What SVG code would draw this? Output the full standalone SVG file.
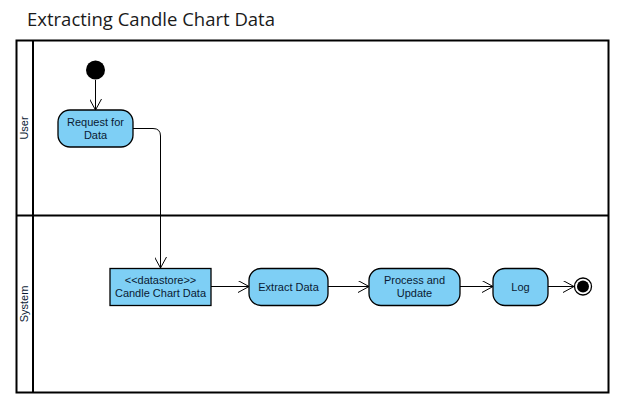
<svg xmlns="http://www.w3.org/2000/svg" width="628" height="412" viewBox="0 0 628 412">
<defs>
<style>
.act{fill:#7ecff5;stroke:#000;stroke-width:1.3}
.lbl{font-family:"Liberation Sans",Arial,sans-serif;font-size:11px;fill:#0a1a33;text-anchor:middle}
.edge{fill:none;stroke:#000;stroke-width:1}
.lane{fill:none;stroke:#000}
</style>
<marker id="arr" viewBox="0 0 12 12" refX="11" refY="6" markerWidth="12" markerHeight="12" markerUnits="userSpaceOnUse" orient="auto">
<path d="M0,0 L11,6 L0,12" fill="none" stroke="#000" stroke-width="1"/>
</marker>
</defs>
<rect width="628" height="412" fill="#fff"/>
<text x="27" y="26" font-family="'Open Sans','Noto Sans',sans-serif" font-size="18.5" fill="#1a1a1a">Extracting Candle Chart Data</text>
<g id="lanes">
<rect x="16.5" y="40.5" width="592" height="352" class="lane" stroke-width="2"/>
<line x1="33" y1="40" x2="33" y2="393" class="lane" stroke-width="2"/>
<line x1="16" y1="215.5" x2="609" y2="215.5" class="lane" stroke-width="2"/>
<text transform="translate(28,128) rotate(-90)" class="lbl" font-size="11">User</text>
<text transform="translate(28,304) rotate(-90)" class="lbl" font-size="11">System</text>
</g>
<g id="connectors">
<line x1="95.5" y1="80" x2="95.5" y2="110" class="edge" marker-end="url(#arr)"/>
<path d="M133,128.5 H153 Q160.5,128.5 160.5,136 V268" class="edge" marker-end="url(#arr)"/>
<line x1="211" y1="286.5" x2="249" y2="286.5" class="edge" marker-end="url(#arr)"/>
<line x1="328" y1="286.5" x2="369" y2="286.5" class="edge" marker-end="url(#arr)"/>
<line x1="460" y1="286.5" x2="493" y2="286.5" class="edge" marker-end="url(#arr)"/>
<line x1="548" y1="286.5" x2="574" y2="286.5" class="edge" marker-end="url(#arr)"/>
</g>
<g id="start"><circle cx="95.5" cy="70" r="9.5" fill="#000"/></g>
<g id="request">
<rect x="58" y="110" width="75" height="37" rx="12" class="act"/>
<text x="95.5" y="126" class="lbl">Request for</text>
<text x="95.5" y="139" class="lbl">Data</text>
</g>
<g id="datastore">
<rect x="110" y="268.5" width="101" height="37" class="act" stroke-width="1"/>
<text x="160.5" y="284" class="lbl">&lt;&lt;datastore&gt;&gt;</text>
<text x="160.5" y="297" class="lbl">Candle Chart Data</text>
</g>
<g id="extract">
<rect x="249" y="268.5" width="79" height="37" rx="12" class="act"/>
<text x="288.5" y="291" class="lbl">Extract Data</text>
</g>
<g id="process">
<rect x="369" y="268.5" width="91" height="37" rx="12" class="act"/>
<text x="414.5" y="284" class="lbl">Process and</text>
<text x="414.5" y="297" class="lbl">Update</text>
</g>
<g id="log">
<rect x="493" y="268.5" width="55" height="37" rx="12" class="act"/>
<text x="520.5" y="291" class="lbl">Log</text>
</g>
<g id="end">
<circle cx="583" cy="286.5" r="8.5" fill="#fff" stroke="#000" stroke-width="1.3"/>
<circle cx="583" cy="286.5" r="6" fill="#000"/>
</g>
</svg>
